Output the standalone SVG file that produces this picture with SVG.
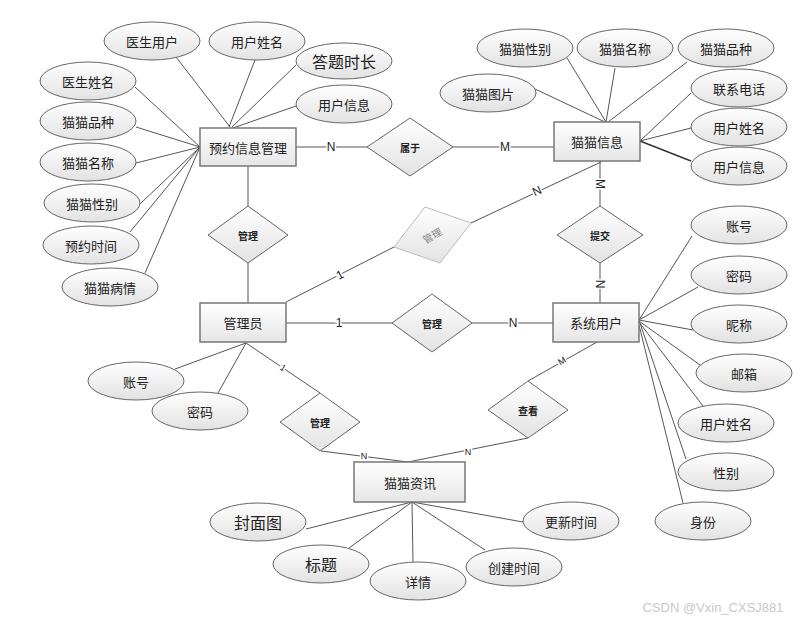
<svg xmlns="http://www.w3.org/2000/svg" width="805" height="623" viewBox="0 0 805 623">
<defs>
<linearGradient id="g" x1="0" y1="0" x2="0" y2="1"><stop offset="0" stop-color="#ffffff"/><stop offset="1" stop-color="#e2e2e2"/></linearGradient>
<linearGradient id="gr" x1="0" y1="0" x2="0" y2="1"><stop offset="0" stop-color="#ffffff"/><stop offset="1" stop-color="#e6e6e6"/></linearGradient>
</defs>
<style>
text{font-family:"Noto Sans CJK SC","Liberation Sans",sans-serif;fill:#222;text-anchor:middle;dominant-baseline:central}
.e{fill:url(#g);stroke:#666;stroke-width:1}
.r{fill:url(#gr);stroke:#777;stroke-width:1.5}
.d{fill:url(#g);stroke:#666;stroke-width:1}
.t{font-size:13px}
.tl{font-size:16px}
.dt{font-size:10px;font-weight:bold}
.c line,.c polyline{stroke:#555;stroke-width:1;fill:none}
.lb{font-size:12px;stroke:#fff;stroke-width:3;paint-order:stroke;font-family:"Liberation Sans",sans-serif}
.ls{font-size:9px;stroke:#fff;stroke-width:3;paint-order:stroke;font-family:"Liberation Sans",sans-serif}
</style>
<rect width="805" height="623" fill="#fff"/>
<g class="c" id="connectors">
<!-- 预约信息管理 attributes -->
<line x1="176" y1="57" x2="230" y2="127"/>
<line x1="255" y1="60" x2="229" y2="127"/>
<line x1="296" y1="65" x2="232" y2="127"/>
<line x1="296" y1="106" x2="233" y2="128"/>
<line x1="135" y1="87" x2="200" y2="147"/>
<line x1="136" y1="127" x2="200" y2="147"/>
<line x1="136" y1="163" x2="200" y2="147"/>
<line x1="140" y1="204" x2="200" y2="147"/>
<line x1="130" y1="232" x2="200" y2="147"/>
<line x1="145" y1="273" x2="200" y2="147"/>
<!-- relations -->
<line x1="296" y1="147" x2="367" y2="147"/>
<line x1="453" y1="147" x2="554" y2="147"/>
<line x1="248" y1="166" x2="248" y2="206"/>
<line x1="248" y1="263" x2="248" y2="303"/>
<!-- 猫猫信息 attributes -->
<line x1="567" y1="58" x2="606" y2="122"/>
<line x1="615" y1="68" x2="606" y2="122"/>
<line x1="687" y1="62" x2="608" y2="122"/>
<line x1="535" y1="89" x2="605" y2="122"/>
<line x1="691" y1="93" x2="640" y2="141"/>
<line x1="691" y1="128" x2="640" y2="141"/>
<line x1="691" y1="161" x2="640" y2="141" style="stroke:#333;stroke-width:1.4"/>
<line x1="600" y1="161" x2="600" y2="206"/>
<line x1="600" y1="263" x2="600" y2="303"/>
<!-- gray 管理 -->
<line x1="286" y1="302" x2="394" y2="247"/>
<line x1="471" y1="223" x2="601" y2="162"/>
<!-- 管理员 - 系统用户 -->
<line x1="286" y1="323" x2="392" y2="323"/>
<line x1="472" y1="323" x2="553" y2="323"/>
<!-- 管理员 attributes -->
<line x1="175" y1="369" x2="246" y2="343"/>
<line x1="218" y1="393" x2="246" y2="343"/>
<line x1="246" y1="343" x2="320" y2="393"/>
<line x1="321" y1="451" x2="408" y2="462"/>
<line x1="408" y1="462" x2="528" y2="438"/>
<line x1="528" y1="381" x2="597" y2="342"/>
<!-- 系统用户 attributes -->
<line x1="639" y1="320" x2="692" y2="236"/>
<line x1="639" y1="320" x2="698" y2="287"/>
<line x1="639" y1="320" x2="693" y2="330"/>
<line x1="639" y1="321" x2="700" y2="365"/>
<line x1="639" y1="322" x2="703" y2="406"/>
<line x1="640" y1="323" x2="686" y2="459"/>
<line x1="639" y1="325" x2="683" y2="503"/>
<!-- 猫猫资讯 attributes -->
<line x1="412" y1="502" x2="306" y2="529"/>
<line x1="412" y1="502" x2="349" y2="548"/>
<line x1="412" y1="502" x2="413" y2="562"/>
<line x1="412" y1="502" x2="485" y2="550"/>
<line x1="412" y1="502" x2="523" y2="522"/>
<!-- labels -->
<text class="lb" x="331" y="147">N</text>
<text class="lb" x="505" y="147">M</text>
<text class="lb" x="600" y="184" transform="rotate(90 600 184)">M</text>
<text class="lb" x="600" y="284" transform="rotate(90 600 284)">N</text>
<text class="lb" x="340" y="275" transform="rotate(-27 340 275)">1</text>
<text class="lb" x="537" y="191" transform="rotate(-25 537 191)">N</text>
<text class="lb" x="339" y="323">1</text>
<text class="lb" x="513" y="323">N</text>
<text class="ls" x="283" y="368" transform="rotate(34 283 368)">1</text>
<text class="ls" x="364" y="456">N</text>
<text class="ls" x="468" y="452">N</text>
<text class="ls" x="562" y="361" transform="rotate(-30 562 361)">M</text>
</g>
<g id="yuyue"><rect class="r" x="200" y="128" width="96" height="38"/><text class="t" x="248" y="147">预约信息管理</text></g>
<g id="maoxinxi"><rect class="r" x="554" y="122" width="86" height="39"/><text class="t" x="597" y="141">猫猫信息</text></g>
<g id="guanliyuan"><rect class="r" x="200" y="303" width="86" height="39"/><text class="t" x="243" y="322">管理员</text></g>
<g id="xitongyonghu"><rect class="r" x="553" y="303" width="86" height="39"/><text class="t" x="596" y="322">系统用户</text></g>
<g id="maozixun"><rect class="r" x="354" y="462" width="111" height="40"/><text class="t" x="410" y="482">猫猫资讯</text></g>
<g id="rel-shuyu"><polygon class="d" points="410,118 453,147 410,176 367,147"/><text class="dt" x="410" y="147">属于</text></g>
<g id="rel-guanli1"><polygon class="d" points="248,206 288,235 248,263 208,235"/><text class="dt" x="248" y="235">管理</text></g>
<g id="rel-guanli-gray"><polygon points="425,207 471,223 440,263 394,247" fill="url(#g)" stroke="#bbb" stroke-width="1"/><text x="432" y="235" transform="rotate(-30 432 235)" style="font-size:10px;fill:#888">管理</text></g>
<g id="rel-tijiao"><polygon class="d" points="600,206 643,235 600,263 557,235"/><text class="dt" x="600" y="235">提交</text></g>
<g id="rel-guanli2"><polygon class="d" points="432,294 472,323 432,352 392,323"/><text class="dt" x="432" y="323">管理</text></g>
<g id="rel-guanli3"><polygon class="d" points="320,393 360,422 320,451 280,422"/><text class="dt" x="320" y="422">管理</text></g>
<g id="rel-chakan"><polygon class="d" points="528,381 568,410 528,438 488,410"/><text class="dt" x="528" y="410">查看</text></g>
<!-- attributes of 预约信息管理 -->
<g id="a1"><ellipse class="e" cx="152" cy="41" rx="48" ry="19"/><text class="t" x="152" y="41">医生用户</text></g>
<g id="a2"><ellipse class="e" cx="257" cy="41" rx="48" ry="19"/><text class="t" x="257" y="41">用户姓名</text></g>
<g id="a3"><ellipse class="e" cx="344" cy="61" rx="48" ry="18"/><text class="tl" x="344" y="61">答题时长</text></g>
<g id="a4"><ellipse class="e" cx="344" cy="104" rx="48" ry="19"/><text class="t" x="344" y="104">用户信息</text></g>
<g id="a5"><ellipse class="e" cx="88" cy="81" rx="48" ry="19"/><text class="t" x="88" y="81">医生姓名</text></g>
<g id="a6"><ellipse class="e" cx="88" cy="121" rx="48" ry="19"/><text class="t" x="88" y="121">猫猫品种</text></g>
<g id="a7"><ellipse class="e" cx="88" cy="162" rx="48" ry="19"/><text class="t" x="88" y="162">猫猫名称</text></g>
<g id="a8"><ellipse class="e" cx="92" cy="203" rx="48" ry="19"/><text class="t" x="92" y="203">猫猫性别</text></g>
<g id="a9"><ellipse class="e" cx="91" cy="245" rx="48" ry="19"/><text class="t" x="91" y="245">预约时间</text></g>
<g id="a10"><ellipse class="e" cx="110" cy="287" rx="48" ry="19"/><text class="t" x="110" y="287">猫猫病情</text></g>
<!-- attributes of 猫猫信息 -->
<g id="b1"><ellipse class="e" cx="525" cy="48" rx="48" ry="19"/><text class="t" x="525" y="48">猫猫性别</text></g>
<g id="b2"><ellipse class="e" cx="625" cy="48" rx="48" ry="19"/><text class="t" x="625" y="48">猫猫名称</text></g>
<g id="b3"><ellipse class="e" cx="726" cy="48" rx="48" ry="19"/><text class="t" x="726" y="48">猫猫品种</text></g>
<g id="b4"><ellipse class="e" cx="488" cy="93" rx="48" ry="19"/><text class="t" x="488" y="93">猫猫图片</text></g>
<g id="b5"><ellipse class="e" cx="739" cy="88" rx="48" ry="19"/><text class="t" x="739" y="88">联系电话</text></g>
<g id="b6"><ellipse class="e" cx="739" cy="127" rx="48" ry="19"/><text class="t" x="739" y="127">用户姓名</text></g>
<g id="b7"><ellipse class="e" cx="739" cy="166" rx="48" ry="19"/><text class="t" x="739" y="166">用户信息</text></g>
<!-- attributes of 系统用户 -->
<g id="c1"><ellipse class="e" cx="739" cy="225" rx="48" ry="19"/><text class="t" x="739" y="225">账号</text></g>
<g id="c2"><ellipse class="e" cx="739" cy="275" rx="48" ry="19"/><text class="t" x="739" y="275">密码</text></g>
<g id="c3"><ellipse class="e" cx="739" cy="324" rx="48" ry="19"/><text class="t" x="739" y="324">昵称</text></g>
<g id="c4"><ellipse class="e" cx="744" cy="373" rx="48" ry="19"/><text class="t" x="744" y="373">邮箱</text></g>
<g id="c5"><ellipse class="e" cx="726" cy="423" rx="48" ry="19"/><text class="t" x="726" y="423">用户姓名</text></g>
<g id="c6"><ellipse class="e" cx="726" cy="472" rx="48" ry="19"/><text class="t" x="726" y="472">性别</text></g>
<g id="c7"><ellipse class="e" cx="703" cy="521" rx="48" ry="19"/><text class="t" x="703" y="521">身份</text></g>
<!-- attributes of 管理员 -->
<g id="d1"><ellipse class="e" cx="136" cy="381" rx="48" ry="19"/><text class="t" x="136" y="381">账号</text></g>
<g id="d2"><ellipse class="e" cx="200" cy="411" rx="48" ry="19"/><text class="t" x="200" y="411">密码</text></g>
<!-- attributes of 猫猫资讯 -->
<g id="f1"><ellipse class="e" cx="258" cy="522" rx="48" ry="19"/><text class="tl" x="258" y="522">封面图</text></g>
<g id="f2"><ellipse class="e" cx="321" cy="564" rx="48" ry="19"/><text class="tl" x="321" y="564">标题</text></g>
<g id="f3"><ellipse class="e" cx="418" cy="581" rx="48" ry="19"/><text class="t" x="418" y="581">详情</text></g>
<g id="f4"><ellipse class="e" cx="514" cy="567" rx="48" ry="19"/><text class="t" x="514" y="567">创建时间</text></g>
<g id="f5"><ellipse class="e" cx="571" cy="521" rx="48" ry="19"/><text class="t" x="571" y="521">更新时间</text></g>
<text x="713" y="607" style="font-size:13px;fill:#c8c8c8;font-family:'Liberation Sans',sans-serif">CSDN @Vxin_CXSJ881</text>
</svg>
